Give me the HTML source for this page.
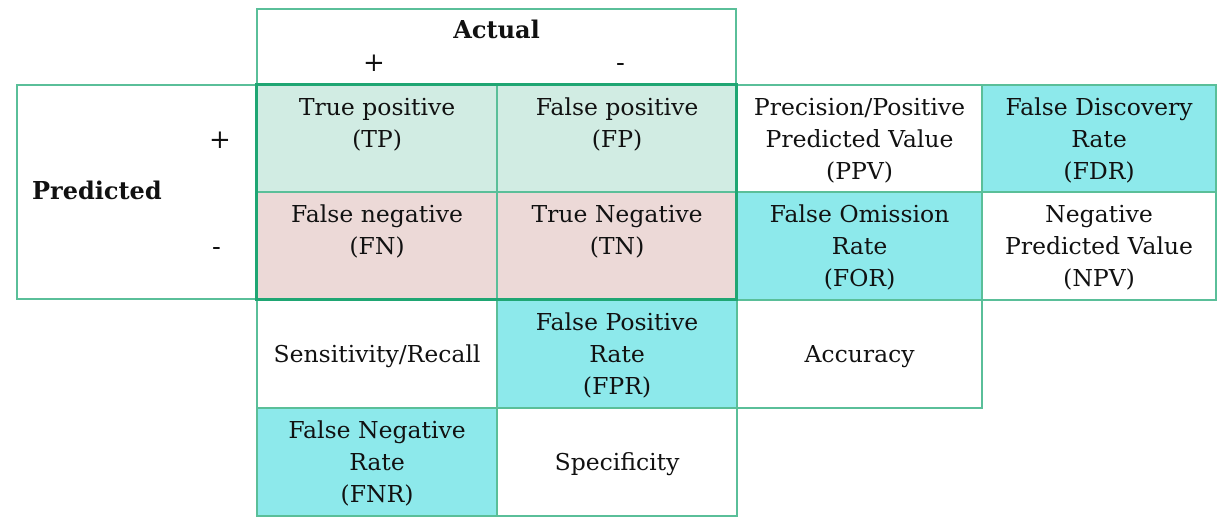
<!DOCTYPE html>
<html><head><meta charset="utf-8"><style>
body{margin:0;width:1228px;height:522px;background:#fff;position:relative;overflow:hidden;font-family:"DejaVu Serif","Liberation Serif",serif;color:#111}
.c{position:absolute;box-sizing:border-box;border:2px solid #5abf99;text-align:center;font-size:23.5px;line-height:32px;padding-top:5px;white-space:nowrap}
.m{display:flex;align-items:center;justify-content:center;padding-top:0}
.g{background:#d1ece3}.p{background:#ecd9d7}.cy{background:#8de9eb}
.t{position:absolute;font-size:26px;line-height:30px}
</style></head><body>
<div class="c" style="left:256px;top:8px;width:481px;height:78px"></div>
<div class="t" style="left:256px;width:481px;top:15px;text-align:center;font-weight:bold;font-size:24px">Actual</div>
<div class="t" style="left:363px;top:48px">+</div>
<div class="t" style="left:616px;top:48px">-</div>
<div class="c" style="left:16px;top:84px;width:242px;height:216px"></div>
<div class="t" style="left:32px;top:176px;font-weight:bold;font-size:24px">Predicted</div>
<div class="t" style="left:209px;top:125px">+</div>
<div class="t" style="left:212px;top:232px">-</div>

<div class="c g" style="left:256px;top:84px;width:242px;height:109px">True positive<br>(TP)</div>
<div class="c g" style="left:496px;top:84px;width:242px;height:109px">False positive<br>(FP)</div>
<div class="c p" style="left:256px;top:191px;width:242px;height:110px">False negative<br>(FN)</div>
<div class="c p" style="left:496px;top:191px;width:242px;height:110px">True Negative<br>(TN)</div>

<div class="c" style="left:736px;top:84px;width:247px;height:109px">Precision/Positive<br>Predicted Value<br>(PPV)</div>
<div class="c cy" style="left:981px;top:84px;width:236px;height:109px">False Discovery<br>Rate<br>(FDR)</div>
<div class="c cy" style="left:736px;top:191px;width:247px;height:110px">False Omission<br>Rate<br>(FOR)</div>
<div class="c" style="left:981px;top:191px;width:236px;height:110px">Negative<br>Predicted Value<br>(NPV)</div>

<div class="c m" style="left:256px;top:299px;width:242px;height:110px">Sensitivity/Recall</div>
<div class="c cy" style="left:496px;top:299px;width:242px;height:110px">False Positive<br>Rate<br>(FPR)</div>
<div class="c m" style="left:736px;top:299px;width:247px;height:110px">Accuracy</div>
<div class="c cy" style="left:256px;top:407px;width:242px;height:110px">False Negative<br>Rate<br>(FNR)</div>
<div class="c m" style="left:496px;top:407px;width:242px;height:110px">Specificity</div>

<div style="position:absolute;z-index:5;left:255px;top:83px;width:483px;height:218px;box-sizing:border-box;border:3px solid #1fa673"></div>
</body></html>
